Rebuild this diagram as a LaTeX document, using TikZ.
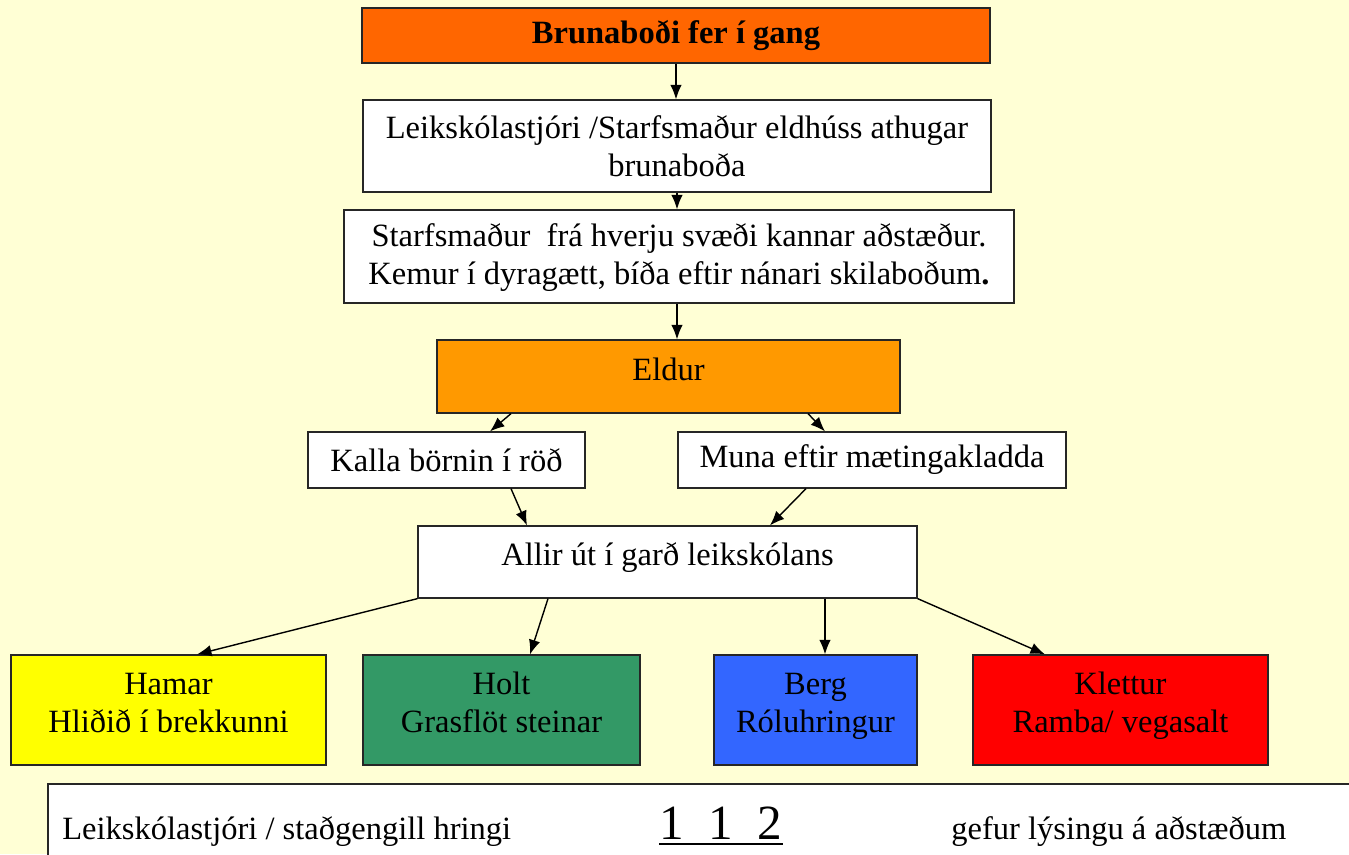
\documentclass[tikz,border=0pt]{standalone}
\usepackage{fontspec}
\setmainfont{Liberation Serif}
\usepackage{tikz}
\usetikzlibrary{positioning,calc}
\usetikzlibrary{shapes.geometric, arrows.meta}
\definecolor{bg}{HTML}{FFFFD5}
\definecolor{alarm}{HTML}{FF6600}
\definecolor{fire}{HTML}{FF9900}
\definecolor{hamarc}{HTML}{FFFF00}
\definecolor{holtc}{HTML}{339966}
\definecolor{bergc}{HTML}{3366FF}
\definecolor{klettc}{HTML}{FF0000}
\tikzset{
  bx/.style={rectangle, draw=black!85, line width=0.7pt, fill=white, text centered, align=center, inner sep=0pt},
  zone/.style={bx, minimum height=2.2cm, text depth=0.3cm},
  ar/.style={-{Latex[length=2.9mm,width=2.3mm]}, line width=0.8pt},
  txt/.style={inner sep=0pt, anchor=base west},
  node font=\fontsize{18.5}{21.5}\selectfont
}
\begin{document}
\begin{tikzpicture}
	\fill[bg] (0,0) rectangle (26.98,-17.08);
	\useasboundingbox (0,0) rectangle (26.98,-17.08);
	\node[bx, fill=alarm, minimum width=12.56cm, minimum height=1.1cm, font=\fontsize{18.5}{21.5}\selectfont\bfseries] (alarm) at (13.52,-0.71) {Brunaboði fer í gang};
	\node[bx, minimum width=12.56cm, minimum height=1.84cm] (check) at (13.54,-2.92) {Leikskólastjóri /Starfsmaður eldhúss athugar\\brunaboða};
	\node[bx, minimum width=13.4cm, minimum height=1.86cm, text depth=0.1cm] (area) at (13.58,-5.13) {Starfsmaður \ frá hverju svæði kannar aðstæður.\\Kemur í dyragætt, bíða eftir nánari skilaboðum{\bfseries.}};
	\node[bx, fill=fire, minimum width=9.26cm, minimum height=1.46cm, text depth=0.3cm] (eldur) at (13.37,-7.53) {Eldur};
	\node[bx, minimum width=5.54cm, minimum height=1.12cm] (kalla) at (8.93,-9.2) {Kalla börnin í röð};
	\node[bx, minimum width=7.76cm, minimum height=1.12cm] (muna) at (17.44,-9.2) {Muna eftir mætingakladda};
	\node[bx, minimum width=9.98cm, minimum height=1.44cm, text depth=0.3cm] (allir) at (13.35,-11.24) {Allir út í garð leikskólans};
	%
	\node[zone, fill=hamarc, minimum width=6.3cm] (hamar) at (3.37,-14.2) {Hamar\\Hliðið í brekkunni};
	\node[zone, fill=holtc, minimum width=5.54cm] (holt) at (10.03,-14.2) {Holt\\Grasflöt steinar};
	\node[zone, fill=bergc, minimum width=4.06cm] (berg) at (16.31,-14.2) {Berg\\Róluhringur};
	\node[zone, fill=klettc, minimum width=5.9cm] (klettur) at (22.41,-14.2) {Klettur\\Ramba/ vegasalt};
	%
	\draw[draw=black!85, line width=0.7pt, fill=white] (0.96,-15.68) rectangle (27.5,-17.5);
	\node[txt] (call) at (1.24,-16.78) {Leikskólastjóri / staðgengill hringi};
	\node[txt, font=\fontsize{28}{32}\selectfont] (num) at (13.18,-16.78) {1\ \ 1\ \ 2};
	\draw[line width=1.6pt] ([yshift=-0.1cm]num.base west) -- ([yshift=-0.1cm]num.base east);
	\node[txt] (desc) at (19.02,-16.78) {gefur lýsingu á aðstæðum};
	%
	\draw[ar] (alarm.south) -- (alarm.south |- check.north);
	\draw[ar] (check.south) -- (check.south |- area.north);
	\draw[ar] (area.south -| check.south) -- (check.south |- eldur.north);
	\draw[ar] ([xshift=-3.15cm]eldur.south) -- ([xshift=0.87cm]kalla.north);
	\draw[ar] ([xshift=2.79cm]eldur.south) -- ([xshift=-0.94cm]muna.north);
	\draw[ar] ([xshift=1.29cm]kalla.south) -- ([xshift=-2.81cm]allir.north);
	\draw[ar] ([xshift=-1.32cm]muna.south) -- ([xshift=2.05cm]allir.north);
	\draw[ar] (allir.south west) -- ([xshift=0.57cm]hamar.north);
	\draw[ar] ([xshift=-2.39cm]allir.south) -- ([xshift=0.57cm]holt.north);
	\draw[ar] ([xshift=0.19cm]berg.north |- allir.south) -- ([xshift=0.19cm]berg.north);
	\draw[ar] (allir.south east) -- ([xshift=-1.51cm]klettur.north);
\end{tikzpicture}
\end{document}
